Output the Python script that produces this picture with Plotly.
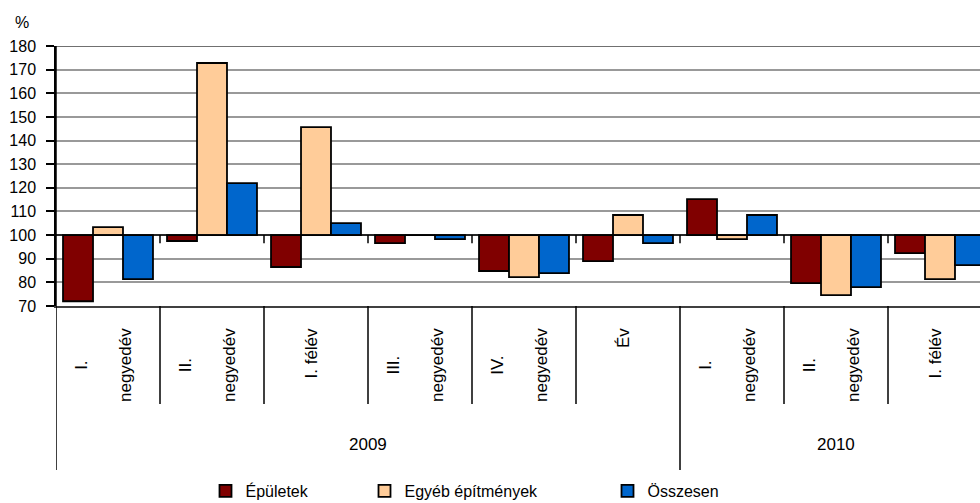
import plotly.graph_objects as go

# ---------------- data ----------------
periods = ["I. negyedév", "II. negyedév", "I. félév", "III. negyedév", "IV. negyedév",
           "Év", "I. negyedév", "II. negyedév", "I. félév"]
years = ["2009", "2010"]
year_first_idx = [0, 6]
year_last_idx = [5, 8]

epuletek = [72.0, 97.5, 86.5, 96.6, 84.8, 89.0, 115.2, 79.7, 92.4]
egyeb = [103.4, 172.8, 145.7, 100.0, 82.2, 108.5, 98.3, 74.6, 81.4]
osszesen = [81.4, 122.0, 105.1, 98.3, 83.9, 96.6, 108.5, 78.0, 87.3]

series_names = ["Épületek", "Egyéb építmények", "Összesen"]
series_values = [epuletek, egyeb, osszesen]
series_colors = ["#800000", "#FFCC99", "#0066CC"]

y_min, y_max, y_step = 70, 180, 10
base_value = 100
unit_label = "%"

# ---------------- geometry ----------------
W, H = 980, 503
L, T, B = 56, 46, 306            # plot area left / top / bottom in px
PW, PH = W - L, B - T
group_px = 104                   # width of one category in px
FONT = "Liberation Sans, Arial, sans-serif"


def py(p):   # pixel y -> paper y
    return (B - p) / PH


def px(p):   # pixel x -> paper x
    return (p - L) / PW


n = len(periods)
xs = list(range(n))

fig = go.Figure()
legend_keys = ["legend", "legend2", "legend3"]
for name, vals, col, lg in zip(series_names, series_values, series_colors, legend_keys):
    fig.add_trace(go.Bar(
        x=xs, y=[v - base_value for v in vals], base=base_value, name=name,
        marker=dict(color=col, line=dict(color="black", width=1.8)),
        legend=lg, hoverinfo="skip",
    ))

shapes = []
# dark top line at 180
shapes.append(dict(type="line", xref="paper", yref="y", x0=0, x1=1, y0=y_max, y1=y_max,
                   line=dict(color="#404040", width=1.5)))
# baseline at 100
shapes.append(dict(type="line", xref="paper", yref="y", x0=0, x1=1, y0=base_value, y1=base_value,
                   line=dict(color="black", width=1.5), layer="above"))
# small ticks on the baseline at category boundaries
for k in range(1, n):
    shapes.append(dict(type="line", xref="x", yref="y", x0=k - 0.5, x1=k - 0.5,
                       y0=base_value, y1=base_value - 3.4, line=dict(color="black", width=1.5)))
# category separators below the plot
for k in range(1, n):
    is_year = (k in year_first_idx)
    shapes.append(dict(type="line", xref="x", yref="paper", x0=k - 0.5, x1=k - 0.5,
                       y0=0, y1=py(470 if is_year else 404),
                       line=dict(color="black", width=1.5)))
# left axis line extended down
shapes.append(dict(type="line", xref="x", yref="paper", x0=-0.5, x1=-0.5, y0=1, y1=py(470),
                   line=dict(color="black", width=1.5)))

annotations = []
for k, lab in enumerate(periods):
    parts = lab.split(" ")
    if parts[-1] == "negyedév":
        txt = parts[0] + "<br> <br>" + parts[1]
    else:
        txt = lab
    annotations.append(dict(x=k, y=py(326), xref="x", yref="paper", text=txt, textangle=-90,
                            showarrow=False, xanchor="center", yanchor="top", align="center",
                            xshift=-5, font=dict(family=FONT, size=17, color="black")))
for yr, a, b in zip(years, year_first_idx, year_last_idx):
    annotations.append(dict(x=(a + b) / 2, y=py(445), xref="x", yref="paper", text=yr,
                            showarrow=False, xanchor="center", yanchor="middle",
                            font=dict(family=FONT, size=17, color="black")))
annotations.append(dict(x=px(22), y=py(22), xref="paper", yref="paper", text=unit_label,
                        showarrow=False, xanchor="center", yanchor="middle",
                        font=dict(family=FONT, size=16, color="black")))

legend_common = dict(orientation="h", yanchor="middle", xanchor="left", y=py(491),
                     bgcolor="rgba(0,0,0,0)", borderwidth=0,
                     font=dict(family=FONT, size=16, color="black"))
legend_px = [205.5, 364.5, 607.5]

fig.update_layout(
    width=W, height=H,
    margin=dict(l=L, r=0, t=T, b=H - B, autoexpand=False),
    paper_bgcolor="white", plot_bgcolor="white",
    barmode="group", bargap=0.135, bargroupgap=0,
    showlegend=True,
    legend=dict(x=px(legend_px[0]), **legend_common),
    legend2=dict(x=px(legend_px[1]), **legend_common),
    legend3=dict(x=px(legend_px[2]), **legend_common),
    xaxis=dict(range=[-0.5, -0.5 + PW / group_px], showticklabels=False, ticks="",
               showgrid=False, zeroline=False, showline=True, mirror=False,
               linecolor="#404040", linewidth=1.5),
    yaxis=dict(range=[y_min, y_max], tickmode="array",
               tickvals=list(range(y_min, y_max + 1, y_step)),
               ticktext=[str(v) for v in range(y_min, y_max + 1, y_step)],
               showgrid=True, gridcolor="#999999", gridwidth=1.5, zeroline=False,
               showline=True, linecolor="black", linewidth=1.5,
               ticks="outside", ticklen=8, tickcolor="black", tickwidth=1.5,
               ticklabelstandoff=7,
               tickfont=dict(family=FONT, size=16, color="black")),
    shapes=shapes, annotations=annotations,
    font=dict(family=FONT, color="black"),
)

fig.write_html("out.html", config={"displayModeBar": False},
               post_script="document.body.style.margin='0px';document.body.style.overflow='hidden';")
